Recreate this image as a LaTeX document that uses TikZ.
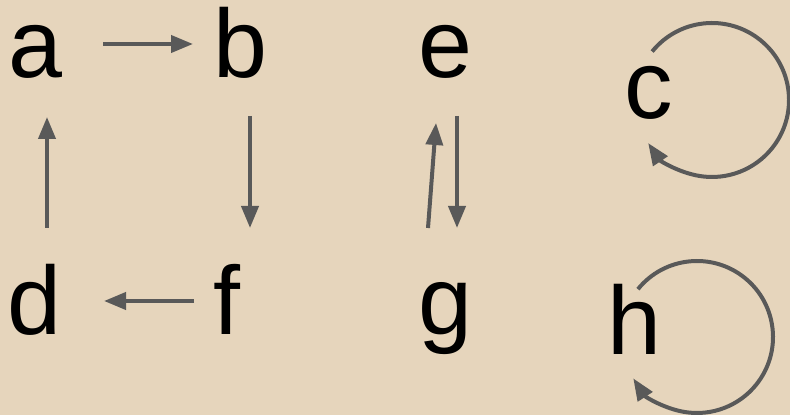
\documentclass[tikz,border=0pt]{standalone}
\usepackage{fontspec}
\setmainfont{Liberation Sans}
\usetikzlibrary{arrows.meta}
\definecolor{sand}{HTML}{E6D5BC}
\definecolor{edgegray}{HTML}{595959}

\begin{document}
\begin{tikzpicture}[x=1pt,y=1pt,every node/.style={inner sep=0pt,anchor=base,font=\fontsize{97}{97}\selectfont},arr/.style={draw=edgegray,line width=4pt,-{Triangle[length=22pt,width=17pt]}}]
\fill[sand] (0,0) rectangle (790,415); \useasboundingbox (0,0) rectangle (790,415);
\node (a) at (35.5,337) {a}; \node (b) at (240,337) {b}; \node (e) at (445,337) {e}; \node (c) at (649,296) {c};
\node (d) at (34,80) {d}; \node (f) at (227,80) {f}; \node (g) at (445,80) {g}; \node (h) at (634,60) {h};
\draw[arr] ([shift={(67.5,34)}]a.base) -- ([shift={(-47,34)}]b.base);
\draw[arr] ([shift={(10,-38)}]b.base) -- ([shift={(23,107)}]f.base);
\draw[arr] ([shift={(-33,34)}]f.base) -- ([shift={(70,34)}]d.base);
\draw[arr] ([shift={(13,107)}]d.base) -- ([shift={(11.5,-39)}]a.base);
\draw[arr] ([shift={(12,-38)}]e.base) -- ([shift={(12,107)}]g.base);
\draw[arr] ([shift={(-17,107)}]g.base) -- ([shift={(-9,-45)}]e.base);
\path ([shift={(63,19)}]c.base) coordinate (cl); \path ([shift={(63,18)}]h.base) coordinate (hl);
\draw[arr] ([shift={(141:77)}]cl) arc[start angle=141,end angle=-146,radius=77];
\draw[arr] ([shift={(141:76)}]hl) arc[start angle=141,end angle=-147,radius=76];
\end{tikzpicture}
\end{document}
